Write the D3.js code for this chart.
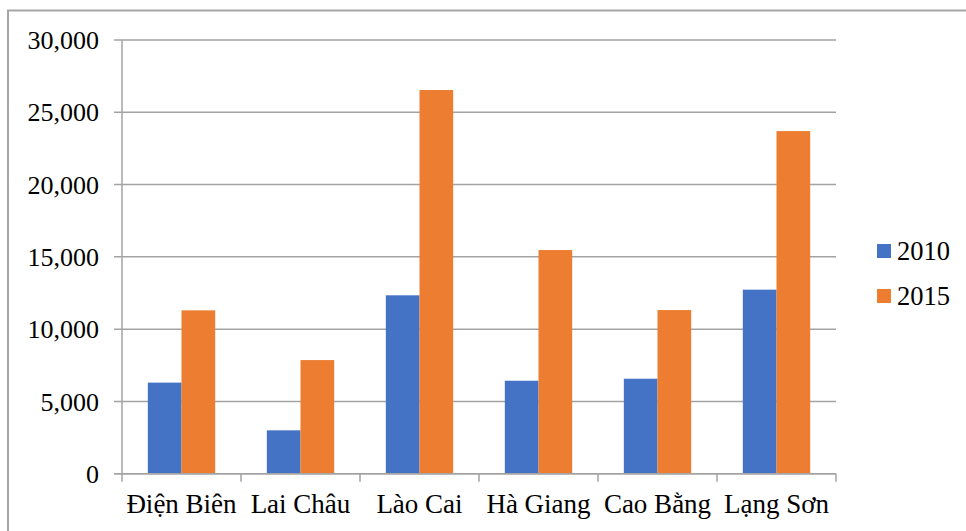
<!DOCTYPE html>
<html>
<head>
<meta charset="utf-8">
<script src="https://cdn.jsdelivr.net/npm/d3@7"></script>
<style>
  html, body { margin: 0; padding: 0; background: #fff; }
  svg { display: block; }
  svg text { font-family: "Liberation Serif", "Times New Roman", Times, serif; }
</style>
</head>
<body>
<svg id="chart" width="966" height="531"></svg>
<script>
// Provinces and their values for the two years
const categories = ["Điện Biên", "Lai Châu", "Lào Cai", "Hà Giang", "Cao Bằng", "Lạng Sơn"];
const seriesNames = ["2010", "2015"];
const values2010 = [6300, 3000, 12340, 6430, 6570, 12730];
const values2015 = [11300, 7860, 26540, 15470, 11320, 23700];
const yTicks = [0, 5000, 10000, 15000, 20000, 25000, 30000];
const colors = ["#4472C4", "#ED7D31"];

const FONT = "'Liberation Serif', 'Times New Roman', Times, serif";
const svg = d3.select("#chart");
const plot = { left: 122, right: 836, top: 40, bottom: 473.7 };

const x0 = d3.scaleBand()
  .domain(categories)
  .range([plot.left, plot.right])
  .paddingInner(0.434)
  .paddingOuter(0.217);

const x1 = d3.scaleBand()
  .domain(seriesNames)
  .range([0, x0.bandwidth()])
  .padding(0);

const y = d3.scaleLinear()
  .domain([0, 30000])
  .range([plot.bottom, plot.top]);

const gridColor = "#a3a3a3";

// Outer frame
svg.append("path")
  .attr("d", "M8,531 V10.5 H966")
  .attr("fill", "none")
  .attr("stroke", "#a6a6a6")
  .attr("stroke-width", 2);

// Horizontal gridlines with small left ticks
svg.append("g").selectAll("line")
  .data(yTicks)
  .join("line")
  .attr("x1", plot.left - 8)
  .attr("x2", plot.right)
  .attr("y1", d => y(d))
  .attr("y2", d => y(d))
  .attr("stroke", gridColor)
  .attr("stroke-width", 1.5);

// Bars
const data = categories.map((c, i) => ({ cat: c, vals: [values2010[i], values2015[i]] }));
svg.append("g").selectAll("g")
  .data(data)
  .join("g")
  .attr("transform", d => `translate(${x0(d.cat)},0)`)
  .selectAll("rect")
  .data(d => d.vals.map((v, k) => ({ key: seriesNames[k], v, k })))
  .join("rect")
  .attr("x", d => x1(d.key))
  .attr("width", x1.bandwidth())
  .attr("y", d => y(d.v))
  .attr("height", d => y(0) - y(d.v))
  .attr("fill", d => colors[d.k]);

// Vertical axis line
svg.append("line")
  .attr("x1", plot.left).attr("x2", plot.left)
  .attr("y1", plot.top).attr("y2", plot.bottom)
  .attr("stroke", gridColor).attr("stroke-width", 1.5);

// Category separator ticks below the baseline
const sepXs = d3.range(categories.length + 1).map(i => plot.left + i * x0.step());
svg.append("g").selectAll("line")
  .data(sepXs)
  .join("line")
  .attr("x1", d => d).attr("x2", d => d)
  .attr("y1", plot.bottom).attr("y2", plot.bottom + 8)
  .attr("stroke", gridColor).attr("stroke-width", 1.5);

// Baseline drawn above bars
svg.append("line")
  .attr("x1", plot.left - 8).attr("x2", plot.right)
  .attr("y1", plot.bottom).attr("y2", plot.bottom)
  .attr("stroke", gridColor).attr("stroke-width", 1.5);

// Y tick labels
const fmt = d3.format(",");
svg.append("g").selectAll("text")
  .data(yTicks)
  .join("text")
  .attr("x", 99)
  .attr("y", d => y(d))
  .attr("dy", "0.35em")
  .attr("text-anchor", "end")
  .attr("font-family", FONT)
  .attr("font-size", 26)
  .attr("fill", "#000")
  .text(d => fmt(d));

// Category labels
svg.append("g").selectAll("text")
  .data(categories)
  .join("text")
  .attr("x", d => x0(d) + x0.bandwidth() / 2)
  .attr("y", 513)
  .attr("text-anchor", "middle")
  .attr("font-family", FONT)
  .attr("font-size", 27)
  .attr("fill", "#000")
  .text(d => d);

// Legend
const legend = svg.append("g").selectAll("g")
  .data(seriesNames)
  .join("g")
  .attr("transform", (d, i) => `translate(877,${244 + i * 45})`);
legend.append("rect")
  .attr("width", 14).attr("height", 14)
  .attr("fill", (d, i) => colors[i]);
legend.append("text")
  .attr("x", 20)
  .attr("y", 7)
  .attr("dy", "0.35em")
  .attr("font-family", FONT)
  .attr("font-size", 26.5)
  .attr("fill", "#000")
  .text(d => d);
</script>
</body>
</html>
